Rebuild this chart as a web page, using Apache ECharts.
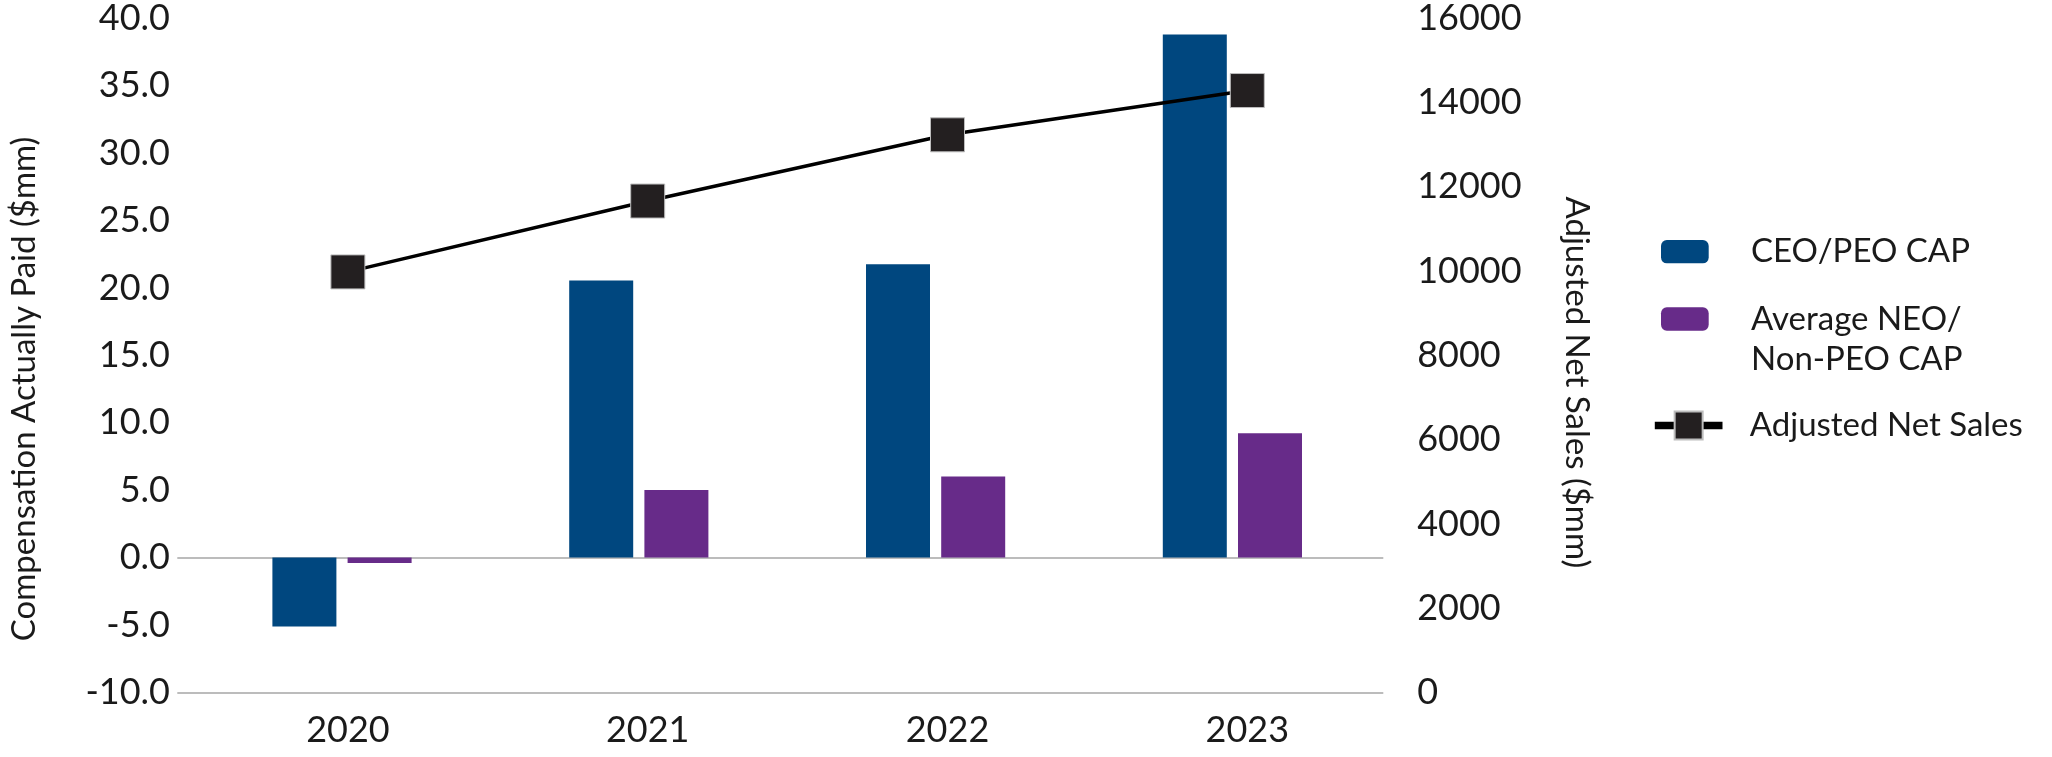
<!DOCTYPE html>
<html>
<head>
<meta charset="utf-8">
<script src="https://cdn.jsdelivr.net/npm/echarts@6/dist/echarts.min.js"></script>
<style>
html,body{margin:0;padding:0;background:#fff;}
#chart{width:2052px;height:757px;}
</style>
</head>
<body>
<div id="chart"></div>
<script>
const categories = ['2020', '2021', '2022', '2023'];
const ceoCap = [-5.1, 20.5, 21.7, 38.7];
const neoCap = [-0.4, 5.0, 6.0, 9.2];
const netSales = [9980, 11660, 13230, 14280];
const seriesNames = ['CEO/PEO CAP', 'Average NEO/ Non-PEO CAP', 'Adjusted Net Sales'];
const leftAxisTitle = 'Compensation Actually Paid ($mm)';
const rightAxisTitle = 'Adjusted Net Sales ($mm)';

const FONT = 'Lato';
const TXT = '#1a1a1a';
const chart = echarts.init(document.getElementById('chart'), null, {renderer: 'canvas'});

const gridTop = 16.8, gridBottom = 757 - 692.8;
const clear = 'rgba(0,0,0,0)';

chart.setOption({
  animation: false,
  backgroundColor: '#fff',
  textStyle: {fontFamily: FONT, color: TXT},
  grid: [
    {left: 191.6, right: 2052 - 1397.2, top: gridTop, bottom: gridBottom},
    {left: 193.6, right: 2052 - 1380.8, top: gridTop, bottom: gridBottom},
    {left: 177.3, right: 2052 - 1383.3, top: gridTop, bottom: gridBottom}
  ],
  xAxis: [
    {
      type: 'category', gridIndex: 0, data: categories,
      axisLine: {show: false}, axisTick: {show: false},
      axisLabel: {fontFamily: FONT, fontSize: 36, color: TXT, margin: 20}
    },
    {type: 'category', gridIndex: 1, data: categories, show: false},
    {type: 'value', gridIndex: 2, show: false, min: 0, max: 1}
  ],
  yAxis: [
    {
      type: 'value', gridIndex: 0, min: -10, max: 40, interval: 5,
      axisLine: {show: false}, axisTick: {show: false}, splitLine: {show: false},
      axisLabel: {fontFamily: FONT, fontSize: 36, color: TXT, margin: 28,
        formatter: v => v.toFixed(1)},
      name: leftAxisTitle, nameLocation: 'middle', nameRotate: 90, nameGap: 157,
      nameTextStyle: {fontFamily: FONT, fontSize: 33, color: TXT, padding: [0, 67, 0, 0]}
    },
    {
      type: 'value', gridIndex: 0, position: 'right', min: 0, max: 16000, interval: 2000,
      axisLine: {show: false}, axisTick: {show: false}, splitLine: {show: false},
      axisLabel: {fontFamily: FONT, fontSize: 36, color: TXT, margin: 20,
        formatter: v => String(v)},
      name: rightAxisTitle, nameLocation: 'middle', nameRotate: -90, nameGap: 163,
      nameTextStyle: {fontFamily: FONT, fontSize: 33, color: TXT, padding: [0, 0, 0, 54]}
    },
    {
      type: 'value', gridIndex: 1, min: -10, max: 40, interval: 5, show: false
    },
    {
      type: 'value', gridIndex: 2, min: -10, max: 40, interval: 10,
      axisLine: {show: false}, axisTick: {show: false}, axisLabel: {show: false},
      splitLine: {show: true, lineStyle: {width: 1.5,
        color: ['#a6a6a6', '#a6a6a6', clear, clear, clear, clear]}}
    }
  ],
  legend: [
    {
      data: [seriesNames[0]], orient: 'vertical', left: 1661, top: 231.7, padding: 0,
      itemWidth: 47.7, itemHeight: 23.3,
      textStyle: {fontFamily: FONT, fontSize: 33, color: TXT, lineHeight: 40, padding: [0, 0, 0, 37.3]}
    },
    {
      data: [seriesNames[1]], orient: 'vertical', left: 1661, top: 259, padding: 0,
      itemWidth: 47.7, itemHeight: 23.3,
      formatter: n => '\n' + n.replace('/ ', '/\n'),
      textStyle: {fontFamily: FONT, fontSize: 33, color: TXT, lineHeight: 40, padding: [0, 0, 0, 37.3]}
    },
    {
      data: [seriesNames[2]], orient: 'vertical', left: 1651, top: 405.5, padding: 0,
      itemWidth: 67.7, itemHeight: 35,
      lineStyle: {width: 7.6, color: '#000'},
      textStyle: {fontFamily: FONT, fontSize: 33, color: TXT, lineHeight: 40, padding: [0, 0, 0, 22.3]}
    }
  ],
  series: [
    {
      name: seriesNames[0], type: 'bar', xAxisIndex: 1, yAxisIndex: 2,
      data: ceoCap, barWidth: 64, barGap: '17.5%',
      itemStyle: {color: '#00477F'}
    },
    {
      name: seriesNames[1], type: 'bar', xAxisIndex: 1, yAxisIndex: 2,
      data: neoCap, barWidth: 64, barGap: '17.5%',
      itemStyle: {color: '#672B89'}
    },
    {
      name: seriesNames[2], type: 'line', xAxisIndex: 0, yAxisIndex: 1,
      data: netSales, symbol: 'rect', symbolSize: 34, z: 5,
      lineStyle: {color: '#000', width: 3.5},
      itemStyle: {color: '#231f20', borderColor: '#bdbdbd', borderWidth: 1}
    }
  ]
});
</script>
</body>
</html>
